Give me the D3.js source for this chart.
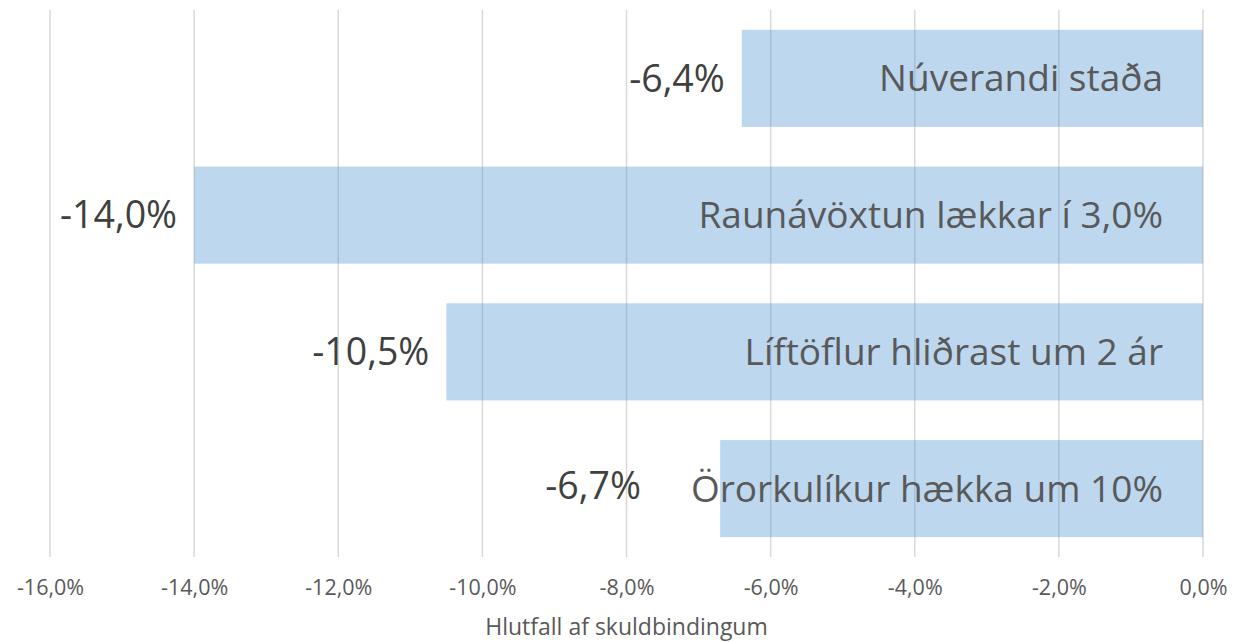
<!DOCTYPE html>
<html>
<head>
<meta charset="utf-8">
<script src="https://cdn.jsdelivr.net/npm/d3@7"></script>
<style>
  html, body { margin: 0; padding: 0; background: #fff; }
  svg { display: block; font-family: "Open Sans", Lato, sans-serif; }
</style>
</head>
<body>
<svg id="chart" width="1243" height="642"></svg>
<script>
const categories = ["Núverandi staða", "Raunávöxtun lækkar í 3,0%", "Líftöflur hliðrast um 2 ár", "Örorkulíkur hækka um 10%"];
const values = [-6.4, -14.0, -10.5, -6.7];
const valueLabels = ["-6,4%", "-14,0%", "-10,5%", "-6,7%"];
const tickValues = [-16, -14, -12, -10, -8, -6, -4, -2, 0];
const tickLabels = ["-16,0%", "-14,0%", "-12,0%", "-10,0%", "-8,0%", "-6,0%", "-4,0%", "-2,0%", "0,0%"];
const axisTitle = "Hlutfall af skuldbindingum";

const svg = d3.select("#chart");
const x = d3.scaleLinear().domain([-16, 0]).range([50, 1203]);
const y = d3.scaleBand().domain(categories).range([10, 557]).paddingInner(0.29).paddingOuter(0.145);

const fontFamily = "Open Sans, Lato, sans-serif";

// gridlines
svg.append("g").selectAll("line").data(tickValues).join("line")
  .attr("x1", d => x(d)).attr("x2", d => x(d))
  .attr("y1", 10).attr("y2", 557)
  .attr("stroke", "#d9d9d9").attr("stroke-width", 1.5);

// bars
svg.append("g").selectAll("rect").data(categories).join("rect")
  .attr("x", (d, i) => x(values[i]))
  .attr("width", (d, i) => x(0) - x(values[i]))
  .attr("y", d => y(d))
  .attr("height", y.bandwidth())
  .attr("fill", "#5B9BD5").attr("fill-opacity", 0.4);

// category labels inside bars
const catText = svg.append("g").selectAll("text").data(categories).join("text")
  .attr("x", x(0) - 40)
  .attr("y", d => y(d) + y.bandwidth() / 2)
  .attr("dy", "0.35em")
  .attr("text-anchor", "end")
  .attr("fill", "#595959")
  .attr("font-size", 37)
  .text(d => d);

const catStart = [];
catText.each(function() { catStart.push(x(0) - 40 - this.getComputedTextLength()); });

// value labels
svg.append("g").selectAll("text").data(categories).join("text")
  .attr("x", (d, i) => Math.min(x(values[i]) - 17, catStart[i] - 50))
  .attr("y", (d, i) => y(d) + y.bandwidth() / 2 - (x(values[i]) - 17 > catStart[i] - 50 ? 3 : 0))
  .attr("dy", "0.35em")
  .attr("text-anchor", "end")
  .attr("fill", "#404040")
  .attr("font-size", 37.5)
  .text((d, i) => valueLabels[i]);

// x axis tick labels
const axis = d3.axisBottom(x).tickValues(tickValues).tickSize(0).tickPadding(0)
  .tickFormat((d, i) => tickLabels[i]);
const ax = svg.append("g").attr("transform", "translate(0,580)").call(axis);
ax.select(".domain").remove();
ax.selectAll("text").attr("fill", "#595959").attr("font-size", 21.5).attr("font-family", fontFamily);

// axis title
svg.append("text")
  .attr("x", x(-8)).attr("y", 635)
  .attr("text-anchor", "middle")
  .attr("fill", "#595959")
  .attr("font-size", 23)
  .text(axisTitle);
</script>
</body>
</html>
